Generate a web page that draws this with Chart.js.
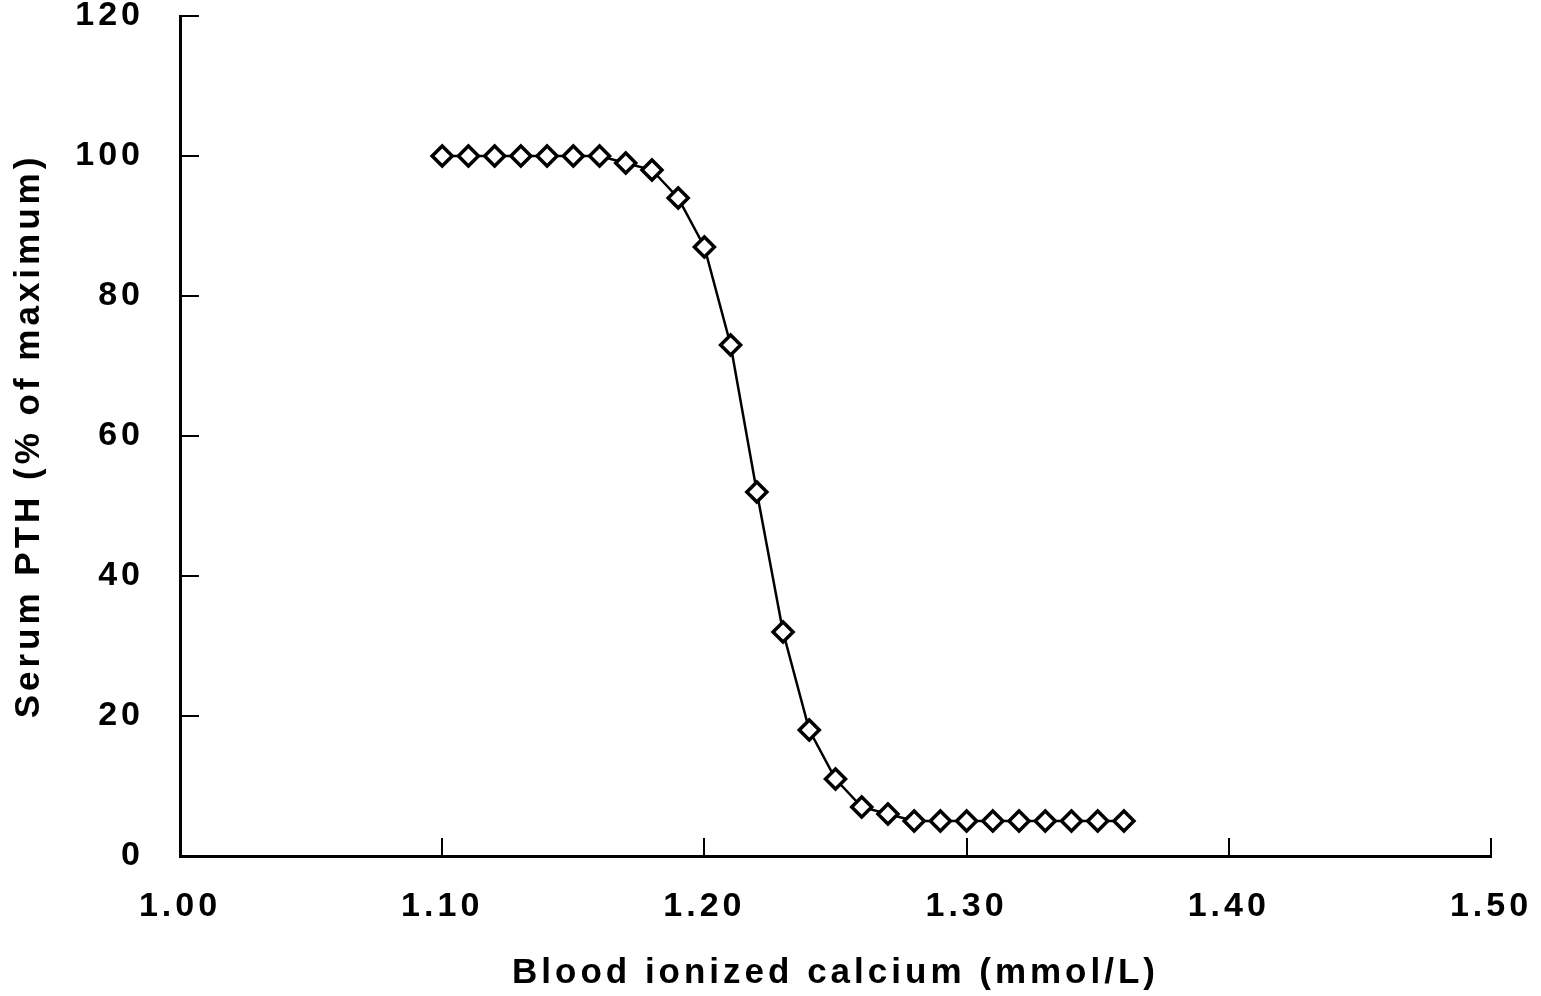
<!DOCTYPE html>
<html>
<head>
<meta charset="utf-8">
<script src="https://cdn.jsdelivr.net/npm/chart.js@4"></script>
<style>
  html, body { margin: 0; padding: 0; background: #fff; }
  #wrap { width: 1541px; height: 996px; position: relative; }
</style>
</head>
<body>
<div id="wrap"><canvas id="pth-chart"></canvas></div>
<script>
// blood ionized calcium (mmol/L) and serum PTH (% of maximum)
const CALCIUM = [1.10, 1.11, 1.12, 1.13, 1.14, 1.15, 1.16, 1.17, 1.18, 1.19, 1.20, 1.21, 1.22, 1.23,
    1.24, 1.25, 1.26, 1.27, 1.28, 1.29, 1.30, 1.31, 1.32, 1.33, 1.34, 1.35, 1.36];
const PTH = [100, 100, 100, 100, 100, 100, 100, 99, 98, 94, 87, 73, 52, 32,
    18, 11, 7, 6, 5, 5, 5, 5, 5, 5, 5, 5, 5];
const X_TITLE = 'Blood ionized calcium (mmol/L)';
const Y_TITLE = 'Serum PTH (% of maximum)';

const FONT = {family: '"Liberation Sans", Arial, sans-serif', weight: 'bold', size: 34};
const TITLE_FONT = {family: '"Liberation Sans", Arial, sans-serif', weight: 'bold', size: 35};

// spaced-out lettering like the original bitmap font
const letterSpacing = {
    id: 'letterSpacing',
    beforeDraw(chart) {
        chart.ctx.letterSpacing = '4px';
    }
};

// tick marks pointing into the plot area
const innerTicks = {
    id: 'innerTicks',
    afterDraw(chart) {
        const ctx = chart.ctx;
        const {x, y} = chart.scales;
        const area = chart.chartArea;
        ctx.save();
        ctx.strokeStyle = '#000';
        ctx.lineWidth = 2;
        ctx.beginPath();
        x.ticks.forEach(t => {
            const px = Math.round(x.getPixelForValue(t.value));
            ctx.moveTo(px, area.bottom);
            ctx.lineTo(px, area.bottom - 18);
        });
        y.ticks.forEach(t => {
            const py = Math.round(y.getPixelForValue(t.value));
            ctx.moveTo(area.left, py);
            ctx.lineTo(area.left + 19, py);
        });
        ctx.stroke();
        ctx.restore();
    }
};

function noScalePadding(scale) {
    scale.paddingTop = 0;
    scale.paddingBottom = 0;
    scale.paddingLeft = 0;
    scale.paddingRight = 0;
}

function initPoints() {
    return CALCIUM.map((c, i) => ({x: c, y: PTH[i]}));
}

new Chart(document.getElementById('pth-chart'), {
    type: 'scatter',
    data: {
        datasets: [{
            data: initPoints(),
            showLine: true,
            borderColor: '#000',
            borderWidth: 2.5,
            tension: 0,
            pointStyle: 'rectRot',
            pointRadius: 10,
            pointBorderWidth: 3.5,
            pointBorderColor: '#000',
            pointBackgroundColor: '#fff'
        }]
    },
    options: {
        responsive: true,
        maintainAspectRatio: false,
        animation: false,
        layout: {padding: {top: 16, right: 50, left: 0, bottom: 0}},
        plugins: {
            legend: {display: false},
            tooltip: {enabled: false}
        },
        scales: {
            x: {
                type: 'linear',
                min: 1.0,
                max: 1.5,
                afterFit(scale) {
                    scale.height = 140;
                    noScalePadding(scale);
                },
                ticks: {
                    stepSize: 0.1,
                    padding: 30,
                    color: '#000',
                    font: FONT,
                    maxRotation: 0,
                    callback: v => v.toFixed(2)
                },
                grid: {display: true, drawOnChartArea: false, drawTicks: false},
                border: {display: true, color: '#000', width: 3},
                title: {
                    display: true,
                    text: X_TITLE,
                    color: '#000',
                    font: TITLE_FONT,
                    padding: {top: 0, bottom: 2}
                }
            },
            y: {
                min: 0,
                max: 120,
                afterFit(scale) {
                    scale.width = 180;
                    noScalePadding(scale);
                },
                ticks: {
                    stepSize: 20,
                    padding: 36,
                    color: '#000',
                    font: FONT
                },
                grid: {display: true, drawOnChartArea: false, drawTicks: false},
                border: {display: true, color: '#000', width: 3},
                title: {
                    display: true,
                    text: Y_TITLE,
                    color: '#000',
                    font: TITLE_FONT,
                    padding: {top: 8, bottom: 0}
                }
            }
        }
    },
    plugins: [letterSpacing, innerTicks]
});
</script>
</body>
</html>
